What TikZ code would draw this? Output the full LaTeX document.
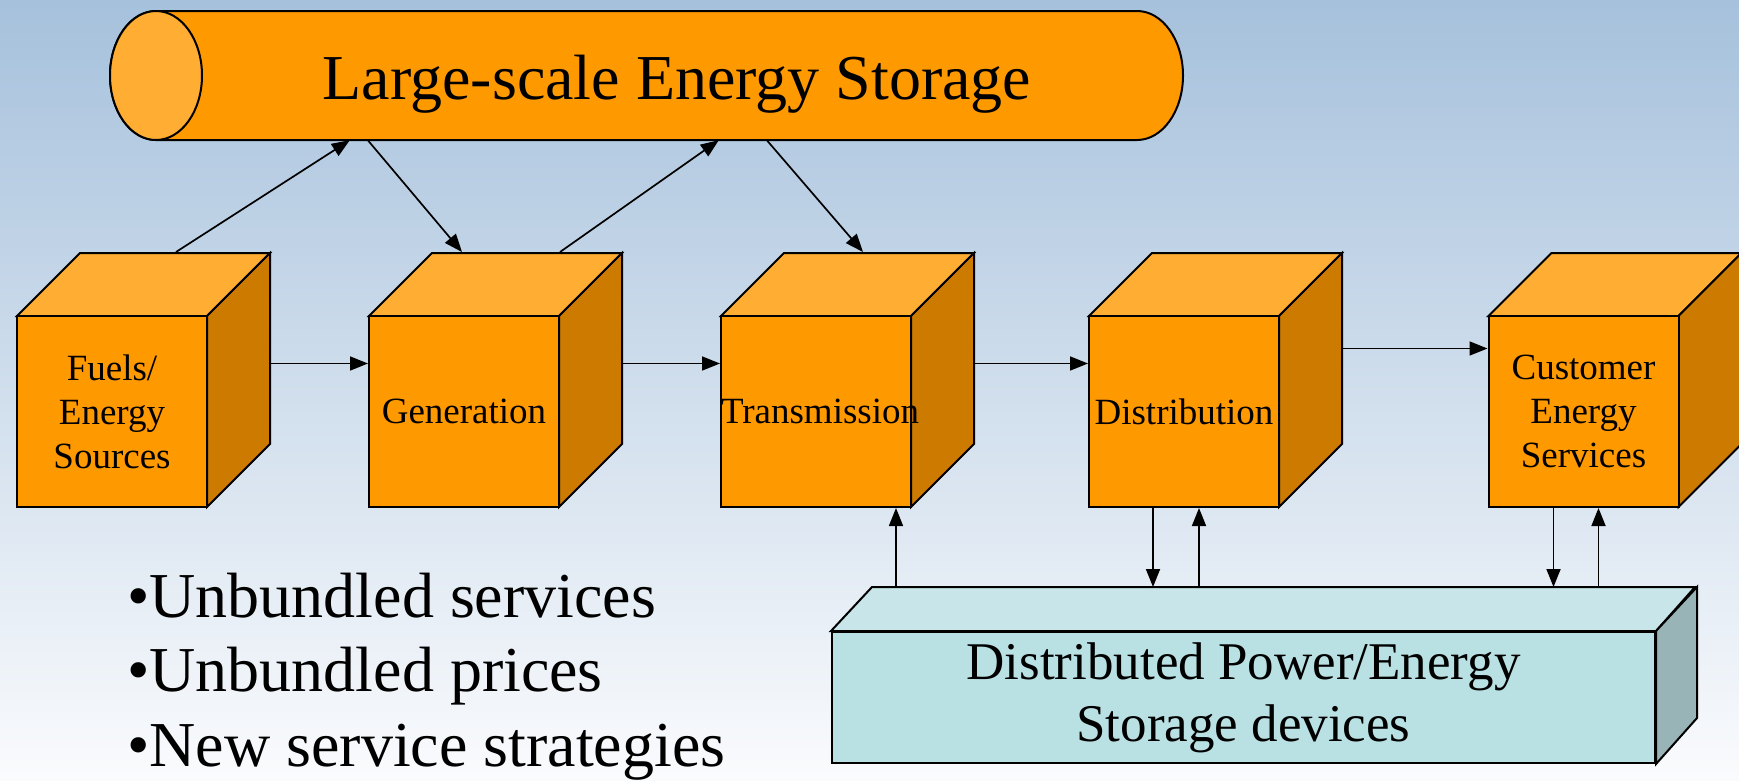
\documentclass[tikz,border=0pt]{standalone}
\usepackage{fontspec}
\setmainfont{Liberation Serif}
\usetikzlibrary{arrows.meta}

\definecolor{bgtop}{RGB}{166,193,220}
\definecolor{bgmid}{RGB}{214,224,237}
\definecolor{bgbot}{RGB}{250,251,253}
\definecolor{orfront}{RGB}{255,153,0}
\definecolor{ortop}{RGB}{255,173,51}
\definecolor{orside}{RGB}{204,122,0}
\definecolor{cyfront}{RGB}{185,224,227}
\definecolor{cytop}{RGB}{200,230,233}
\definecolor{cyside}{RGB}{152,180,182}

\begin{document}
\begin{tikzpicture}[x=1pt,y=-1pt,
	face/.style={draw,line width=2pt},
	cube/.style={face,fill=orfront,minimum width=190pt,minimum height=191pt,text width=190pt,inner sep=0pt,align=center,font=\fontsize{37}{44}\selectfont},
	arr/.style={line width=1.7pt,-{Triangle[length=18pt,width=14pt]}}]
			\useasboundingbox (0,0) rectangle (1739,780);
			\shade[top color=bgtop,middle color=bgmid,bottom color=bgbot] (0,0) rectangle (1739,780);
			
			% storage cylinder on top
			\draw[face,fill=orfront] (156,11) -- (1137,11) arc[start angle=-90,end angle=90,x radius=46,y radius=64.5] -- (156,140) arc[start angle=90,end angle=270,x radius=46,y radius=64.5] -- cycle;
			\draw[face,fill=ortop] (156,75.5) ellipse[x radius=46,y radius=64.5];
			\node[minimum width=1072pt,minimum height=129pt,inner sep=0pt] (les) at (647,75.5) {};
			\node[anchor=base,inner sep=0pt,font=\fontsize{64}{77}\selectfont] (lestxt) at (677,99) {Large-scale Energy Storage};
			
			% the chain of cubes
			\foreach \n/\x/\txt in {f/112/{Fuels/\\Energy\\Sources},g/464/Generation,t/816/Transmission,d/1184/Distribution,c/1583.5/{Customer\\Energy\\Services}} {
				\draw[face,fill=ortop] ({\x-95},316) -- ++(63,-63) -- ++(190,0) -- ++(-63,63) -- cycle;
				\draw[face,fill=orside] ({\x+95},316) -- ++(63,-63) -- ++(0,191) -- ++(-63,63) -- cycle;
				\node[cube] (\n) at (\x,411.5) {\txt};
			}
			
			% distributed devices
			\node[face,fill=cyfront,minimum width=823pt,minimum height=131pt,inner sep=0pt,align=center,font=\fontsize{53}{62}\selectfont] (dp) at (1243.5,697.5) {Distributed Power/Energy\\Storage devices};
			\draw[face,fill=cytop] (dp.north west) -- ++(41,-44) -- ++(823,0) -- (dp.north east) -- cycle;
			\draw[face,fill=cyside] (dp.north east) -- ++(41,-44) -- ++(0,131) -- (dp.south east) -- cycle;
			\coordinate (dpback) at ([yshift=44pt]dp.north);
			
			\draw[arr] ([xshift=63pt,yshift=48pt]f.east) -- ([yshift=48pt]g.west);
			\draw[arr] ([xshift=63pt,yshift=48pt]g.east) -- ([yshift=48pt]t.west);
			\draw[arr] ([xshift=63pt,yshift=48pt]t.east) -- ([yshift=48pt]d.west);
			\draw[arr] ([xshift=63pt,yshift=63pt]d.east) -- ([yshift=63pt]c.west);
			
			\draw[arr] ([shift={(160,-63)}]f.north west) -- ([xshift=239pt]les.south west);
			\draw[arr] ([xshift=257pt]les.south west) -- ([shift={(94,-63)}]g.north west);
			\draw[arr] ([yshift=63pt]g.north east) -- ([xshift=608pt]les.south west);
			\draw[arr] ([xshift=656pt]les.south west) -- ([shift={(143,-63)}]t.north west);
			
			\draw[arr] ([xshift=80pt]t.south |- dpback) -- ([xshift=80pt]t.south);
			\draw[arr] ([xshift=-31pt]d.south) -- ([xshift=-31pt]d.south |- dpback);
			\draw[arr] ([xshift=15pt]d.south |- dpback) -- ([xshift=15pt]d.south);
			\draw[arr] ([xshift=-30pt]c.south) -- ([xshift=-30pt]c.south |- dpback);
			\draw[arr] ([xshift=15pt]c.south |- dpback) -- ([xshift=15pt]c.south);
			
			% bullet list
			\foreach \txt [count=\i] in {Unbundled services,Unbundled prices,New service strategies}
				\node[anchor=base west,inner sep=0pt,font=\fontsize{64}{77}\selectfont] (bul\i) at (127,{617+74.5*(\i-1)}) {•\txt};
\end{tikzpicture}
\end{document}
